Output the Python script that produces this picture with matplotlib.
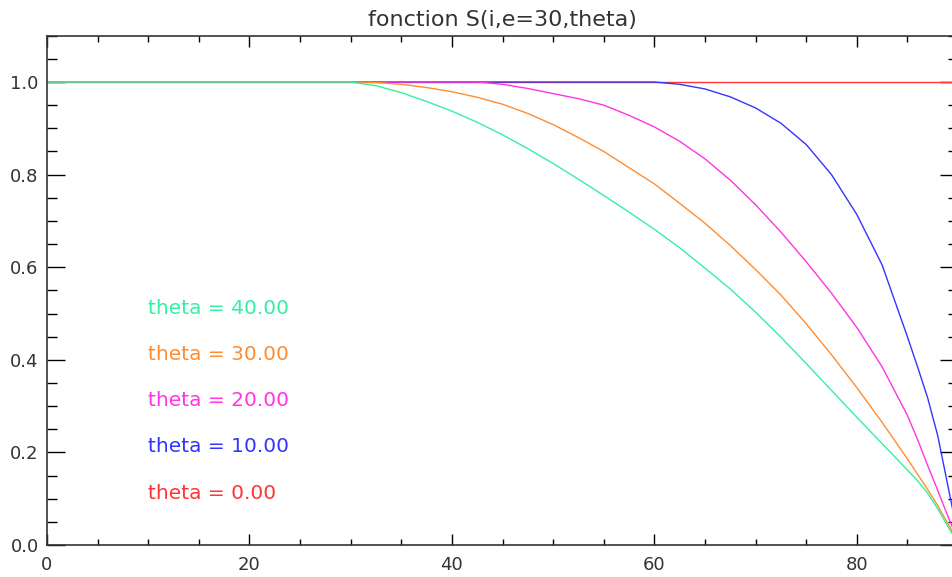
import numpy as np
import matplotlib
matplotlib.use('Agg')
import matplotlib.pyplot as plt
from matplotlib.ticker import MultipleLocator, FormatStrFormatter

# incidence angle i (deg), shared by all curves
angles = [0, 30, 32.5, 35, 37.5, 40, 42.5, 45, 47.5, 50, 52.5, 55, 57.5, 60,
          62.5, 65, 67.5, 70, 72.5, 75, 77.5, 80, 82.5, 85, 86, 87, 88, 89, 90]

# S(i, e=30, theta)
s_theta0 = [1.0] * len(angles)
s_theta10 = [1.0, 1.0, 1.0, 1.0, 1.0, 1.0, 1.0, 1.0, 1.0, 1.0, 1.0, 1.0, 1.0, 1.0,
             0.995, 0.985, 0.968, 0.944, 0.911, 0.865, 0.800, 0.714, 0.605, 0.450,
             0.385, 0.318, 0.236, 0.128, 0.02]
s_theta20 = [1.0, 1.0, 1.0, 1.0, 1.0, 1.0, 1.0, 0.995, 0.986, 0.975, 0.964, 0.950,
             0.928, 0.903, 0.872, 0.834, 0.788, 0.735, 0.676, 0.612, 0.544, 0.470,
             0.385, 0.280, 0.228, 0.172, 0.118, 0.062, 0.01]
s_theta30 = [1.0, 1.0, 0.999, 0.995, 0.988, 0.979, 0.967, 0.952, 0.932, 0.908,
             0.880, 0.850, 0.815, 0.780, 0.738, 0.695, 0.647, 0.595, 0.540, 0.478,
             0.411, 0.340, 0.265, 0.186, 0.153, 0.120, 0.085, 0.046, 0.008]
s_theta40 = [1.0, 1.0, 0.992, 0.977, 0.958, 0.937, 0.913, 0.886, 0.856, 0.824,
             0.790, 0.755, 0.719, 0.682, 0.642, 0.598, 0.553, 0.503, 0.449, 0.392,
             0.334, 0.276, 0.219, 0.162, 0.139, 0.112, 0.078, 0.040, 0.004]

thetas = [0, 10, 20, 30, 40]
curves = [s_theta0, s_theta10, s_theta20, s_theta30, s_theta40]
colors = ['#ff3434', '#3434ff', '#ff34e4', '#ff8c30', '#34f0a4']
label_y = [0.1, 0.2, 0.3, 0.4, 0.5]

fig = plt.figure(figsize=(9.52, 5.77), dpi=100)
# axes run past the right edge, as in the cropped original
ax = fig.add_axes([47/952, 32/577, 911/952, 509.3/577])

for th, y, c, ly in zip(thetas, curves, colors, label_y):
    ax.plot(angles, y, color=c, lw=1.0)
    ax.text(10, ly, 'theta = %.2f' % th, color=c, fontsize=14.5, va='baseline')

ax.set_xlim(0, 90)
ax.set_ylim(0, 1.1)
ax.xaxis.set_major_locator(MultipleLocator(20))
ax.xaxis.set_minor_locator(MultipleLocator(5))
ax.yaxis.set_major_locator(MultipleLocator(0.2))
ax.yaxis.set_minor_locator(MultipleLocator(0.05))
ax.yaxis.set_major_formatter(FormatStrFormatter('%.1f'))

ax.tick_params(axis='x', which='major', direction='in', top=True, length=8, width=1, pad=8, labelsize=13, labelcolor='#333333')
ax.tick_params(axis='x', which='minor', direction='in', top=True, length=4.5, width=1)
ax.tick_params(axis='y', which='major', direction='in', right=True, length=13, width=1, pad=6, labelsize=13, labelcolor='#333333')
ax.tick_params(axis='y', which='minor', direction='in', right=True, length=7, width=1)
for sp in ax.spines.values():
    sp.set_color('#333333')
    sp.set_linewidth(1.2)

ax.set_title('fonction S(i,e=30,theta)', fontsize=16, color='#333333', pad=7)

fig.savefig('out.png', dpi=100)
